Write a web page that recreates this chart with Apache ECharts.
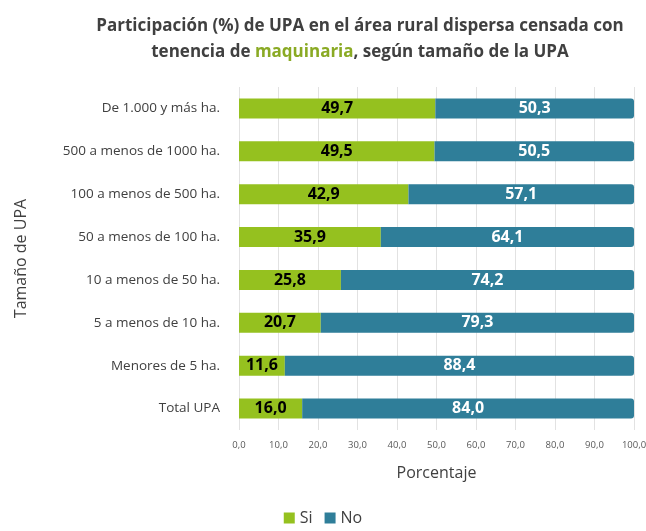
<!DOCTYPE html>
<html><head><meta charset="utf-8">
<script src="https://cdn.jsdelivr.net/npm/echarts@6/dist/echarts.min.js"></script>
<style>html,body{margin:0;padding:0;background:#fff}#c{width:646px;height:531px}</style>
</head><body><div id="c"></div>
<script>
const categories = ["Total UPA","Menores de 5 ha.","5 a menos de 10 ha.","10 a menos de 50 ha.","50 a menos de 100 ha.","100 a menos de 500 ha.","500 a menos de 1000 ha.","De 1.000 y más ha."];
const siValues = [16.0,11.6,20.7,25.8,35.9,42.9,49.5,49.7];
const noValues = [84.0,88.4,79.3,74.2,64.1,57.1,50.5,50.3];
const xTicks = [0,10,20,30,40,50,60,70,80,90,100];
const fmt = v => v.toFixed(1).replace('.', ',');
const chart = echarts.init(document.getElementById('c'));
const font = 'Open Sans';
chart.setOption({
  animation:false,
  title:{
    text:'{a|Participación (%) de UPA en el área rural dispersa censada con}\n{a|tenencia de }{g|maquinaria}{a|, según tamaño de la UPA}',
    left:355, top:8, textAlign:'center',
    textStyle:{rich:{
      a:{fontFamily:font,fontWeight:'bold',fontSize:17,color:'#404040',lineHeight:26},
      g:{fontFamily:font,fontWeight:'bold',fontSize:17,color:'#8aaa24',lineHeight:26}
    }}
  },
  legend:{bottom:0,left:'center',itemWidth:11,itemHeight:11,itemGap:12,
    textStyle:{fontFamily:font,fontSize:16,color:'#404040'},
    data:['Si','No'], icon:'rect'},
  grid:{left:239,right:12,top:87,bottom:101,outerBoundsMode:'none',containLabel:false},
  xAxis:{type:'value',min:0,max:100,interval:10,
    axisLabel:{formatter:v=>fmt(v),fontFamily:font,fontSize:9.5,color:'#595959',margin:10},
    splitLine:{lineStyle:{color:'#e2e2e2'}},axisLine:{show:false},axisTick:{show:false},
    name:'Porcentaje',nameLocation:'middle',nameGap:35,
    nameTextStyle:{fontFamily:font,fontSize:16,color:'#404040'}},
  yAxis:{type:'category',data:categories,
    axisLabel:{fontFamily:font,fontSize:13.5,color:'#404040',margin:19},
    axisLine:{show:false},axisTick:{show:false},
    name:'Tamaño de UPA',nameLocation:'middle',nameGap:210,nameRotate:90,
    nameTextStyle:{fontFamily:font,fontSize:16,color:'#404040'}},
  series:[
    {name:'Si',type:'bar',stack:'s',data:siValues,barWidth:20,
     itemStyle:{color:'#95c11f'},
     label:{show:true,formatter:p=>fmt(p.value),fontFamily:font,fontWeight:'bold',fontSize:16,color:'#000'}},
    {name:'No',type:'bar',stack:'s',data:noValues,barWidth:20,
     itemStyle:{color:'#2f7e99',borderRadius:[0,3,3,0]},
     label:{show:true,formatter:p=>fmt(p.value),fontFamily:font,fontWeight:'bold',fontSize:16,color:'#fff'}}
  ]
});
</script></body></html>
